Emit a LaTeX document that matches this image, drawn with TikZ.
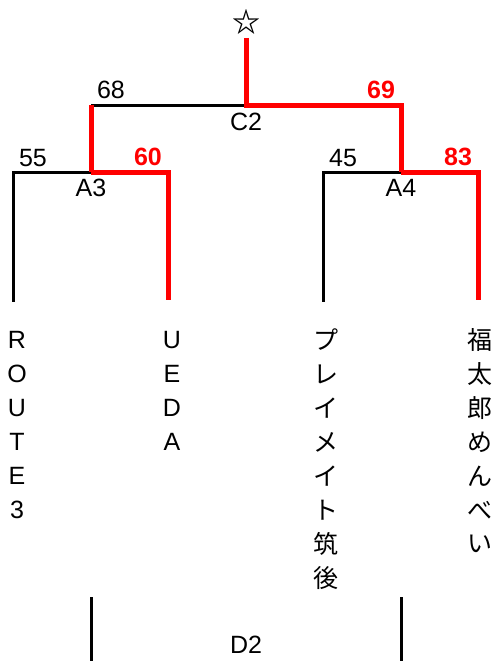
\documentclass[tikz,border=0pt]{standalone}
\usepackage{fontspec}
\setmainfont{Liberation Sans}
\newfontfamily\jpfont{Noto Sans CJK JP}
\usetikzlibrary{arrows.meta}

\tikzset{
  lose/.style={draw=black, line width=3pt},
  win/.style={draw=red, line width=5pt},
  txt/.style={inner sep=0pt, font=\fontsize{25}{28}\selectfont},
  wintxt/.style={txt, text=red, font=\fontsize{25}{28}\selectfont\bfseries},
  leaf/.style={inner sep=0pt, font=\fontsize{25}{28}\selectfont}
}

\begin{document}
\begin{tikzpicture}[x=1pt,y=-1pt]
\useasboundingbox (0,0) rectangle (497,661);
% junctions
\coordinate (top) at (246,38);
\coordinate (C2) at (246,105);
\coordinate (A3) at (91,172);
\coordinate (A4) at (401,172);
\coordinate (t1) at (13,300);
\coordinate (t2) at (168,300);
\coordinate (t3) at (323,300);
\coordinate (t4) at (478,300);
% lines
\draw[lose, line cap=rect] (t1) |- (A3);
\draw[lose, line cap=rect] (t3) |- (A4);
\draw[lose] (A3 |- C2) -- (C2);
\draw[win] (A3) -| (t2);
\draw[win] (A4) -| (t4);
\draw[win] (A3) -- (A3 |- C2);
\draw[win] (top) -- (C2) -| (A4);
\draw[lose] (91,597) -- (91,661);
\draw[lose] (401,597) -- (401,661);
% star
\node[inner sep=0pt, font=\jpfont\bfseries\fontsize{28}{30}\selectfont] (star) at (246,22) {☆};
% scores and match names
\node[txt] (s55) at (33,158) {55};
\node[wintxt] (s60) at (148,157) {60};
\node[txt] (lA3) at (91,188) {A3};
\node[txt] (s45) at (343,158) {45};
\node[wintxt] (s83) at (458,157) {83};
\node[txt] (lA4) at (401,188) {A4};
\node[txt] (s68) at (111,90) {68};
\node[wintxt] (s69) at (381,90) {69};
\node[txt] (lC2) at (246,122) {C2};
\node[txt] (lD2) at (246,645) {D2};
% teams
\foreach \ch [count=\i] in {R,O,U,T,E,3}
  \node[leaf] (ra\i) at (17,{340+34*(\i-1)}) {\ch};
\foreach \ch [count=\i] in {U,E,D,A}
  \node[leaf] (ub\i) at (172,{340+34*(\i-1)}) {\ch};
\foreach \ch [count=\i] in {プ,レ,イ,メ,イ,ト,筑,後}
  \node[leaf, font=\jpfont\fontsize{25}{28}\selectfont] (pc\i) at (326,{340+34*(\i-1)}) {\ch};
\foreach \ch [count=\i] in {福,太,郎,め,ん,べ,い}
  \node[leaf, font=\jpfont\fontsize{25}{28}\selectfont] (fd\i) at (480,{340+34*(\i-1)}) {\ch};
\end{tikzpicture}
\end{document}
